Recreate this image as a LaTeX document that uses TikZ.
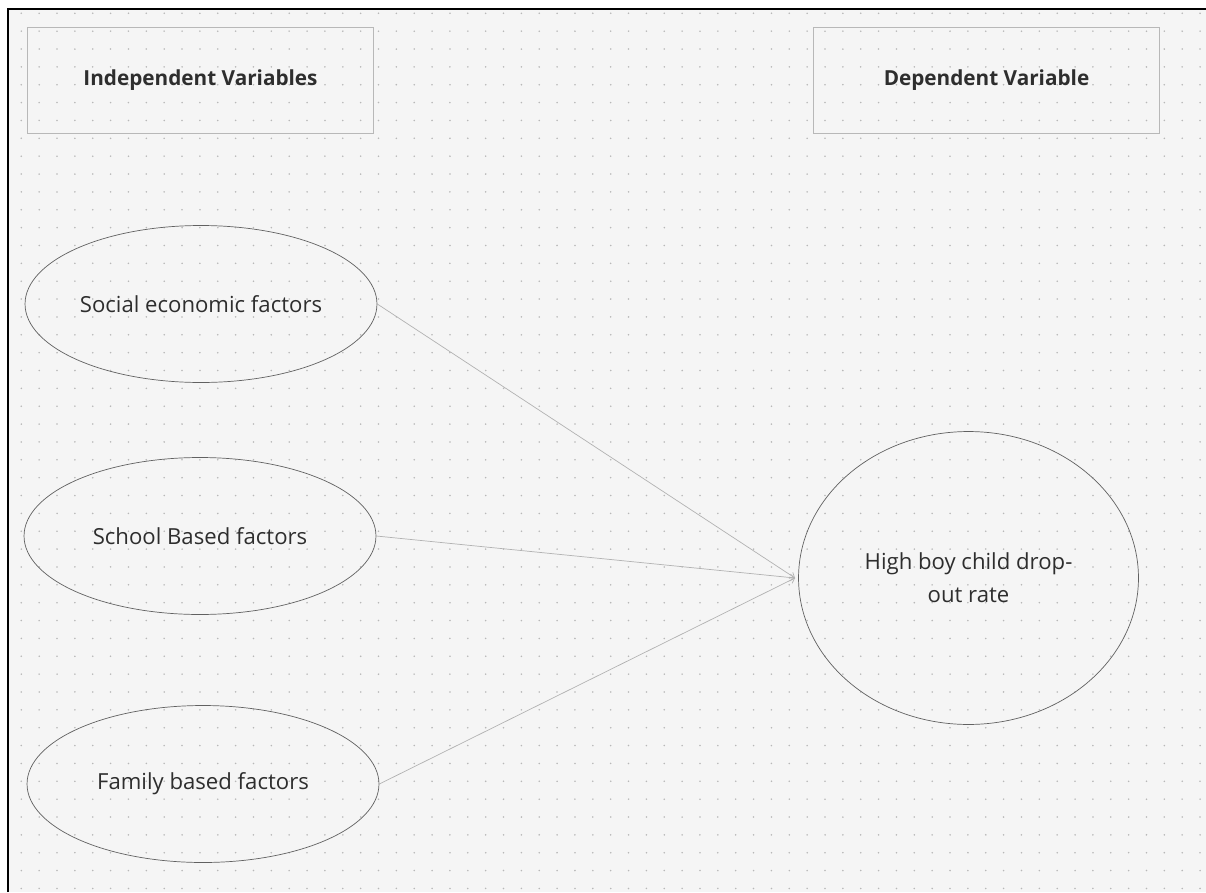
\documentclass[tikz,border=0pt]{standalone}
\usepackage{fontspec}
\setmainfont{Open Sans}
\usepackage{tikz}
\usetikzlibrary{shapes.geometric}
\usetikzlibrary{arrows.meta}

\begin{document}
\begin{tikzpicture}[x=0.02cm,y=-0.02cm,
		font=\fontsize{12.6}{19}\selectfont,
		varbox/.style={draw=black!28,minimum width=6.92cm,minimum height=2.12cm,font=\fontsize{11.8}{19}\selectfont\bfseries,text=black!82},
		factor/.style={ellipse,draw=black!62,minimum width=7.04cm,minimum height=3.14cm,inner sep=0pt,text=black!82},
		link/.style={black!30,-{Straight Barb[length=2.5pt,width=4pt]}}]
		\def\gs{17.86}
		\useasboundingbox (0,0) rectangle (1206,892);
		\fill [white] (0,0) rectangle (1206,892);
		\fill [black!4] (8,9) rectangle (1206,892);
		\draw [line width=1.1pt] (8,892) -- (8,9) -- (1206,9);
		% dotted grid
		\foreach \i in {0,...,66}
			\foreach \j in {0,...,49}
				\fill [black!28] (21.3+\i*\gs,13.3+\j*\gs) circle (0.5pt);
		\node [varbox] (indep) at (200.5,80) {Independent Variables};
		\node [varbox] (dep) at (986.5,80) {Dependent Variable};
		\node [factor] (social) at (201,304) {Social economic factors};
		\node [factor] (school) at (200,536) {School Based factors};
		\node [factor] (family) at (203,784) {Family based factors};
		\node [factor,minimum width=6.8cm,minimum height=5.86cm,align=center] (rate) at (968.5,578) {High boy child drop-\\out rate};
		\coordinate (meet) at (795,578);
		\draw [link] (social.east) -- (meet);
		\draw [link] (school.east) -- (meet);
		\draw [link] (family.east) -- (meet);
	\end{tikzpicture}
\end{document}
